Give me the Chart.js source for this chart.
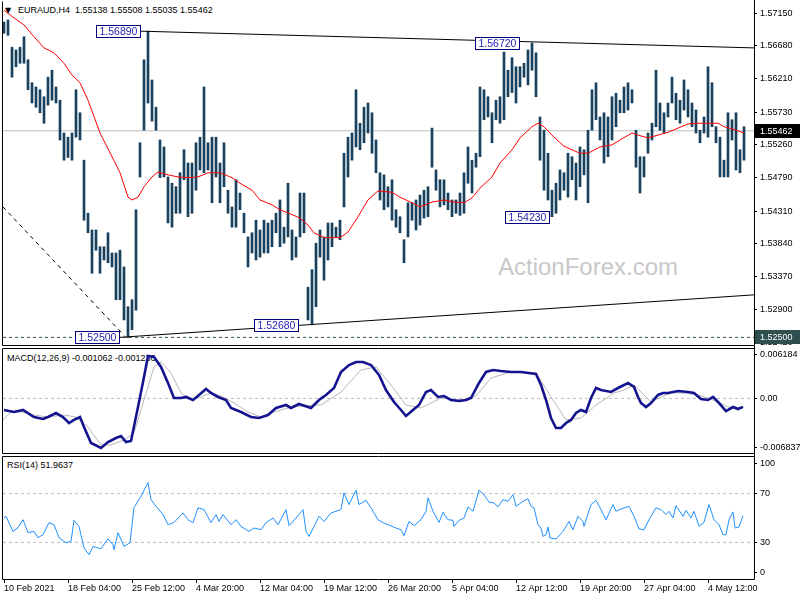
<!DOCTYPE html>
<html>
<head>
<meta charset="utf-8">
<script src="https://cdn.jsdelivr.net/npm/chart.js@4.4.0/dist/chart.umd.min.js"></script>
<style>
body { margin: 0; background: #fff; }
#wrap { position: relative; width: 800px; height: 600px; overflow: hidden; font-family: "Liberation Sans", Arial, sans-serif; }
canvas { position: absolute; left: 0; }
.lbl { position: absolute; font-size: 9px; line-height: 9px; white-space: pre; color: #000; }
#wm { position: absolute; left: 498px; top: 253px; font-size: 24px; color: #c8c8c8; }
</style>
</head>
<body>
<div id="wrap">
  <div id="wm">ActionForex.com</div>
  <div class="lbl" style="left:5px;top:6px;font-size:8px;font-family:'DejaVu Sans'">▼</div>
  <div class="lbl" style="left:18px;top:6px">EURAUD,H4  1.55138 1.55508 1.55035 1.55462</div>
  <div class="lbl" style="left:7px;top:354px">MACD(12,26,9) -0.001062 -0.001236</div>
  <div class="lbl" style="left:7px;top:461px">RSI(14) 51.9637</div>
  <canvas id="cMain" width="800" height="347" style="top:0"></canvas>
  <canvas id="cMacd" width="800" height="110" style="top:346px"></canvas>
  <canvas id="cRsi" width="800" height="146" style="top:454px"></canvas>
</div>
<script>
// ---- price bars (one bar = 8h here) ----
var highs = [
  1.5702,1.5705,1.5666,1.5662,1.5666,1.5681,1.5648,1.5615,1.5609,1.5605,
  1.5595,1.5623,1.5633,1.5609,1.5590,1.5543,1.5537,1.5543,1.5605,1.5572,
  1.5504,1.5428,1.5404,1.5404,1.5380,1.5380,1.5400,1.5371,1.5371,1.5375,
  1.5351,1.5294,1.5304,1.5433,1.5529,1.5648,1.5689,1.5619,1.5580,1.5533,
  1.5523,1.5480,1.5471,1.5466,1.5486,1.5519,1.5500,1.5500,1.5529,1.5537,
  1.5609,1.5529,1.5537,1.5537,1.5500,1.5529,1.5461,1.5437,1.5476,1.5457,
  1.5428,1.5394,1.5400,1.5418,1.5404,1.5418,1.5414,1.5418,1.5428,1.5447,
  1.5408,1.5471,1.5404,1.5394,1.5457,1.5457,1.5322,1.5347,1.5385,1.5404,
  1.5394,1.5414,1.5414,1.5408,1.5418,1.5514,1.5537,1.5543,1.5605,1.5557,
  1.5580,1.5586,1.5572,1.5533,1.5486,1.5483,1.5466,1.5476,1.5433,1.5423,
  1.5390,1.5443,1.5443,1.5447,1.5454,1.5461,1.5466,1.5550,1.5490,1.5476,
  1.5476,1.5457,1.5447,1.5447,1.5457,1.5486,1.5523,1.5504,1.5514,1.5609,
  1.5605,1.5595,1.5572,1.5590,1.5595,1.5659,1.5633,1.5651,1.5638,1.5638,
  1.5643,1.5662,1.5672,1.5658,1.5566,1.5547,1.5514,1.5461,1.5471,1.5490,
  1.5486,1.5514,1.5509,1.5500,1.5523,1.5519,1.5547,1.5605,1.5615,1.5566,
  1.5572,1.5566,1.5595,1.5600,1.5590,1.5609,1.5615,1.5605,1.5547,1.5509,
  1.5509,1.5543,1.5557,1.5633,1.5586,1.5572,1.5586,1.5623,1.5600,1.5590,
  1.5619,1.5605,1.5586,1.5576,1.5547,1.5566,1.5638,1.5615,1.5552,1.5537,
  1.5504,1.5572,1.5562,1.5572,1.5519,1.5552
];
var lows = [
  1.5686,1.5683,1.5623,1.5638,1.5643,1.5643,1.5605,1.5586,1.5580,1.5572,
  1.5557,1.5583,1.5590,1.5586,1.5533,1.5504,1.5508,1.5504,1.5537,1.5533,
  1.5418,1.5400,1.5342,1.5375,1.5342,1.5361,1.5357,1.5351,1.5304,1.5304,
  1.5275,1.5250,1.5261,1.5289,1.5480,1.5547,1.5586,1.5560,1.5547,1.5479,
  1.5480,1.5414,1.5408,1.5428,1.5428,1.5476,1.5423,1.5428,1.5461,1.5490,
  1.5486,1.5490,1.5443,1.5480,1.5443,1.5466,1.5428,1.5408,1.5408,1.5433,
  1.5400,1.5351,1.5371,1.5361,1.5365,1.5371,1.5371,1.5380,1.5400,1.5380,
  1.5385,1.5394,1.5361,1.5365,1.5394,1.5400,1.5275,1.5268,1.5294,1.5365,
  1.5332,1.5361,1.5380,1.5394,1.5390,1.5437,1.5480,1.5504,1.5523,1.5519,
  1.5529,1.5543,1.5514,1.5486,1.5447,1.5433,1.5437,1.5418,1.5408,1.5400,
  1.5357,1.5394,1.5418,1.5404,1.5411,1.5421,1.5423,1.5494,1.5461,1.5437,
  1.5440,1.5433,1.5423,1.5428,1.5425,1.5428,1.5471,1.5457,1.5494,1.5509,
  1.5562,1.5566,1.5529,1.5562,1.5557,1.5562,1.5595,1.5601,1.5586,1.5609,
  1.5623,1.5612,1.5633,1.5595,1.5504,1.5461,1.5447,1.5423,1.5428,1.5447,
  1.5461,1.5451,1.5476,1.5447,1.5466,1.5483,1.5443,1.5547,1.5562,1.5533,
  1.5500,1.5509,1.5533,1.5552,1.5572,1.5572,1.5576,1.5586,1.5494,1.5457,
  1.5480,1.5514,1.5533,1.5552,1.5547,1.5543,1.5566,1.5586,1.5562,1.5557,
  1.5576,1.5566,1.5552,1.5543,1.5529,1.5543,1.5537,1.5552,1.5529,1.5480,
  1.5480,1.5480,1.5533,1.5490,1.5486,1.5504
];

// moving average (red), sampled along the line
var maIdx = [0,2.5,5,7.5,10,12.5,15,17,19,21,24,27,29,31,32,33.5,35,37,38.5,41,43.5,46,48.5,51,54,57,59,62,64,67,69,72,74,76,77.5,80,84,86,88.5,91,93.5,97,99,102,104,107,110,112.5,115,117,119,122,124,127,129,132,133.5,135,137.5,140,142,144,146,149,152,154,157,158.5,161,163.5,166,168.5,171,173.5,176,178.5,180,182,183.5,185];
var maVal = [1.5719,1.5708,1.5698,1.5681,1.5665,1.5658,1.5643,1.5626,1.5615,1.5590,1.5543,1.5509,1.5486,1.5451,1.5447,1.5451,1.5466,1.5480,1.5487,1.5483,1.5480,1.5479,1.5480,1.5486,1.5486,1.5479,1.5471,1.5461,1.5447,1.5440,1.5433,1.5426,1.5421,1.5411,1.5400,1.5393,1.5393,1.5401,1.5423,1.5447,1.5460,1.5458,1.5451,1.5443,1.5437,1.5444,1.5447,1.5444,1.5443,1.5450,1.5464,1.5480,1.5500,1.5519,1.5536,1.5552,1.5557,1.5552,1.5537,1.5524,1.5519,1.5514,1.5514,1.5523,1.5526,1.5533,1.5543,1.5540,1.5536,1.5540,1.5544,1.5550,1.5556,1.5557,1.5557,1.5557,1.5552,1.5549,1.5546,1.5543];

var priceTicks = [1.5715,1.5668,1.5621,1.5573,1.5526,1.5479,1.5431,1.5384,1.5337,1.5290,1.5242];
var lastPrice = 1.55462;
var supportLevel = 1.5250;

// annotated swing points: bar index of the label's right edge, price
var noteIdx = [34.0, 128.75, 136.25, 28.75, 73.5];
var notePrice = [1.5689, 1.5672, 1.5423, 1.5250, 1.5268];

// trend lines: [start index, start price, end index, end price]
var upperTrend = [34.0, 1.5689, 187.5, 1.5665];
var lowerTrend = [28.75, 1.5250, 187.5, 1.5311];
var fallLine = [-0.25, 1.5437, 30.0, 1.5253];

// ---- MACD(12,26,9) ----
var macdIdx = [0,2.5,4.75,7.5,9.75,11,13,14.75,16.25,17.5,19,20,21.75,24.25,26,28,29.25,30.5,31.75,33.5,35,36,37.5,39.25,41,42.5,44.25,45.5,47.25,48.75,50.5,51.75,53.5,55.5,56.75,59.25,61.75,63.75,66,68,70.5,71.75,73.75,76.75,78.75,80.5,82.5,84.25,86.25,88,89.75,91.75,93.75,95.5,97.5,99.25,100.5,102.25,103.75,105.5,106.75,108.5,110,111.75,113.75,115.5,116.75,118.75,120.5,122.25,124.25,126.75,129.25,133,134.25,135.5,136.75,138,139.25,140.5,141.75,143,144.25,145.5,146.75,148,149.25,151.75,153.5,156,157.5,158.5,159.25,160.5,161.75,163.5,164.75,166,168.5,171,172.5,174.25,176,177.25,178.5,180.5,182.25,183.5,184.75];
var macdVal = [-0.00145,-0.00170,-0.00145,-0.00233,-0.00258,-0.00233,-0.00183,-0.00233,-0.00308,-0.00270,-0.00233,-0.00358,-0.00558,-0.00621,-0.00546,-0.00496,-0.00471,-0.00546,-0.00533,-0.00108,0.00268,0.00531,0.00518,0.00393,0.00193,0.00005,0.00005,0.00018,-0.00020,0.00043,0.00118,0.00068,0.00018,-0.00020,-0.00120,-0.00170,-0.00233,-0.00245,-0.00208,-0.00120,-0.00083,-0.00120,-0.00070,-0.00120,-0.00020,0.00043,0.00130,0.00331,0.00418,0.00456,0.00456,0.00418,0.00293,0.00105,-0.00045,-0.00145,-0.00220,-0.00145,-0.00083,0.00080,0.00105,0.00018,0.00030,-0.00020,-0.00033,-0.00020,0.00005,0.00193,0.00331,0.00356,0.00343,0.00331,0.00331,0.00305,0.00168,-0.00020,-0.00245,-0.00371,-0.00371,-0.00308,-0.00270,-0.00183,-0.00145,-0.00170,0.00005,0.00130,0.00105,0.00080,0.00130,0.00193,0.00143,0.00018,-0.00058,-0.00108,-0.00058,0.00043,0.00068,0.00068,0.00093,0.00080,0.00068,-0.00008,-0.00020,0.00018,-0.00045,-0.00158,-0.00108,-0.00133,-0.00106];
var sigIdx = [-0.25,1.75,4.25,7.5,11,15,18,21,24.25,26.75,30,32.5,35,37.5,39.25,41.75,44.25,46.75,49.25,51.75,54.25,57.5,61,64.25,67.5,71,74.25,79.25,84.25,89.25,93,96.75,100.5,104.25,109.25,114.25,118,121.75,126.75,133,136.75,140.5,144.25,148,152.5,155,157.5,160,161.75,163.75,166.75,170,173.5,176,178.5,181,184.75];
var sigVal = [-0.00270,-0.00170,-0.00170,-0.00208,-0.00233,-0.00208,-0.00233,-0.00358,-0.00583,-0.00583,-0.00521,-0.00433,-0.00020,0.00393,0.00456,0.00318,0.00068,-0.00020,0.00018,0.00068,0.00030,-0.00058,-0.00170,-0.00233,-0.00170,-0.00120,-0.00095,-0.00083,0.00080,0.00356,0.00393,0.00168,-0.00083,-0.00120,0.00005,-0.00020,0.00030,0.00255,0.00331,0.00318,0.00018,-0.00270,-0.00245,-0.00083,0.00068,0.00105,0.00168,0.00043,-0.00045,0.00005,0.00068,0.00068,0.00043,0.00005,-0.00045,-0.00108,-0.00124];
var macdTop = 0.006184, macdBottom = -0.006837;
var macdTicks = [0.006184, 0, -0.006837];
var macdTickText = ['0.006184', '0.00', '-0.006837'];

// ---- RSI(14) ----
var rsiIdx = [0,0.5,2.25,3.5,4.75,6,7.5,8.5,9.75,11.25,12.5,13.75,15.5,16.75,17.5,18.75,20,21.25,22.25,24.25,26,27.25,27.5,28.5,30,31.5,32.5,34.25,35.5,36,36.75,38,39.75,41,42.5,44.75,46,47.25,48.5,50,51.75,53,53.75,54.75,56.75,58,59.25,61.25,62.5,64.25,65.5,67.25,68.5,70.5,71.25,73,74.75,75.5,76.25,77.5,78.75,80,81.75,84.25,85,86.25,88,88.75,90.5,91.75,93.5,94.75,96,98,99.25,100,101.25,102.5,104.25,105.5,106,107.25,108.75,109.75,111,112.25,112.5,113.75,115,116,117.25,118.75,120,121.25,122.5,123.5,124.75,126,127.25,128,129.75,131,131.75,132.5,133.5,134.25,134.75,135.5,136,136.5,138,139.75,141.25,142.25,143.5,144.75,145,146.75,148,149.25,150.5,152.25,153,154.25,156.25,157.5,158.75,160,161.25,163,164.25,165.5,166.25,167.25,168,169.75,170.5,171.75,172.5,173.75,175,176.25,177.5,178.75,179.75,180.5,181.25,182.25,182.75,183.75,184.75];
var rsiVal = [50.0,51.4,39.0,42.1,48.6,38.0,39.0,33.9,36.3,46.2,44.5,33.9,29.7,30.8,48.1,43.1,25.6,19.9,26.7,24.8,33.0,28.1,24.0,38.0,26.7,29.7,58.5,67.8,76.0,79.0,65.1,59.6,52.8,44.5,46.4,54.1,48.6,46.2,58.3,56.9,46.2,52.8,47.2,52.8,44.5,48.6,43.1,39.0,41.8,40.4,46.2,50.0,44.5,56.9,43.7,50.0,56.9,39.0,34.9,43.1,51.4,47.2,54.1,56.9,70.6,61.0,72.7,61.0,64.5,58.3,48.6,46.2,44.5,41.8,40.4,35.5,47.2,43.7,48.6,55.5,66.5,55.5,46.4,54.6,48.6,48.1,43.1,48.1,50.0,59.1,55.5,72.7,69.2,62.9,62.4,59.1,65.1,63.7,69.2,59.6,63.7,65.7,59.6,58.3,44.5,41.8,34.9,36.3,42.6,33.6,32.8,39.0,47.2,40.4,51.4,47.2,43.1,61.0,64.5,56.9,48.6,61.0,55.5,57.4,59.6,51.4,41.0,40.4,48.6,58.3,56.9,52.8,55.5,50.0,60.1,51.4,56.3,50.0,55.5,43.1,46.4,61.0,48.6,44.5,36.3,36.3,48.6,55.0,41.8,42.6,52.0];
var rsiLevels = [70, 30];
var rsiTicks = [100, 70, 30, 0];

// ---- time axis ----
var dateIdx = [0,16,32,48,64,80,96,112,128,144,160,176];
var dateLabels = ['10 Feb 2021','18 Feb 04:00','25 Feb 12:00','4 Mar 20:00','12 Mar 04:00','19 Mar 12:00','26 Mar 20:00','5 Apr 04:00','12 Apr 12:00','19 Apr 20:00','27 Apr 04:00','4 May 12:00'];

var X_MIN = -0.25, X_MAX = 187.5;
var FONT = { family: '"Liberation Sans", Arial, sans-serif', size: 9 };

function pts(xs, ys) { return xs.map(function (x, i) { return { x: x, y: ys[i] }; }); }
function seg(s) { return [{ x: s[0], y: s[1] }, { x: s[2], y: s[3] }]; }
function flat(v) { return [{ x: X_MIN, y: v }, { x: X_MAX, y: v }]; }
function line(data, color, width, order, dash) {
  return { type: 'line', data: data, borderColor: color, borderWidth: width, pointRadius: 0,
           tension: 0, order: order, borderDash: dash || [], fill: false };
}
// stop the axes from pushing the plot area in for their edge labels
function noEdgePad(s) { s.paddingTop = 0; s.paddingBottom = 0; s.paddingLeft = 0; s.paddingRight = 0; }

// frame around each panel
function frame(sides) {
  return {
    id: 'frame',
    afterDraw: function (chart) {
      var c = chart.ctx, a = chart.chartArea;
      var l = a.left - 0.5, r = a.right + 0.5, t = a.top - 0.5, b = a.bottom + 0.5;
      c.save();
      c.strokeStyle = '#000';
      c.lineWidth = 1;
      c.beginPath();
      if (sides.indexOf('t') >= 0) { c.moveTo(l, t); c.lineTo(r, t); }
      if (sides.indexOf('b') >= 0) { c.moveTo(l, b); c.lineTo(r, b); }
      c.moveTo(l, t); c.lineTo(l, b);
      c.moveTo(r, 0); c.lineTo(r, b);
      c.stroke();
      c.restore();
    }
  };
}

function yAxis(min, max, tickVals, labelFn, inset) {
  return {
    position: 'right', min: min, max: max,
    afterFit: function (s) { s.width = 46; noEdgePad(s); },
    afterBuildTicks: function (s) {
      var pad = (max - min) * inset;
      s.ticks = tickVals.map(function (v) {
        var p = v;
        if (v >= max) p = max - pad;
        if (v <= min) p = min + pad;
        return { value: p };
      });
    },
    ticks: { autoSkip: false, font: FONT, color: '#000', padding: 3, callback: labelFn },
    grid: { drawOnChartArea: false, tickLength: 3, tickColor: '#000' },
    border: { display: false }
  };
}

function xHidden() {
  return { type: 'linear', min: X_MIN, max: X_MAX, display: false, offset: false, grid: { offset: false } };
}

var base = {
  responsive: false, animation: false, events: [],
  plugins: { legend: { display: false }, tooltip: { enabled: false } }
};

// ---------------- main price panel ----------------
var bars = highs.map(function (h, i) { return { x: i, y: [lows[i], h] }; });

var notesPlugin = {
  id: 'notes',
  afterDatasetsDraw: function (chart) {
    var c = chart.ctx, xs = chart.scales.x, ys = chart.scales.y;
    c.save();
    c.font = '10.5px "Liberation Sans", Arial, sans-serif';
    c.textBaseline = 'middle';
    noteIdx.forEach(function (ix, i) {
      var txt = notePrice[i].toFixed(5);
      var px = xs.getPixelForValue(ix), py = ys.getPixelForValue(notePrice[i]);
      var w = Math.round(c.measureText(txt).width + 6), h = 12;
      var bx = Math.round(px - w) + 0.5, by = Math.round(py - h / 2) + 0.5;
      c.fillStyle = '#fff';
      c.fillRect(bx, by, w, h);
      c.strokeStyle = '#000080';
      c.lineWidth = 1;
      c.strokeRect(bx, by, w, h);
      c.fillStyle = '#1f1fb4';
      c.fillText(txt, bx + 3, by + h / 2 + 0.5);
    });
    c.restore();
  }
};

var markerPrices = [lastPrice, supportLevel];
var markerColors = ['#000000', '#2f4f4f'];
var markerPlugin = {
  id: 'markers',
  afterDraw: function (chart) {
    var c = chart.ctx, ys = chart.scales.y, a = chart.chartArea;
    c.save();
    c.font = '9px "Liberation Sans", Arial, sans-serif';
    c.textBaseline = 'middle';
    markerPrices.forEach(function (p, i) {
      var y = Math.round(ys.getPixelForValue(p));
      c.fillStyle = markerColors[i];
      c.fillRect(a.right + 1, y - 7, 800 - a.right, 14);
      c.fillStyle = '#fff';
      c.fillText(p.toFixed(5), a.right + 6, y + 0.5);
    });
    c.restore();
  }
};

new Chart(document.getElementById('cMain'), {
  type: 'bar',
  data: {
    datasets: [
      line(flat(lastPrice), '#c0c0c0', 1, 9),
      line(flat(supportLevel), '#2f4f4f', 1, 8, [3, 3]),
      { type: 'bar', data: bars, backgroundColor: '#17405f', barThickness: 2, borderWidth: 0, order: 5 },
      line(pts(maIdx, maVal), '#ff0000', 1, 3),
      line(seg(upperTrend), '#000', 1, 2),
      line(seg(lowerTrend), '#000', 1, 2),
      line(seg(fallLine), '#000', 1, 2, [4, 4])
    ]
  },
  options: Object.assign({}, base, {
    layout: { padding: { left: 3, top: 2, bottom: 2, right: 0 } },
    scales: {
      x: xHidden(),
      y: yAxis(1.52391, 1.57308, priceTicks, function (v, i) { return priceTicks[i].toFixed(5); }, 0)
    }
  }),
  plugins: [frame('b'), notesPlugin, markerPlugin]
});

// ---------------- MACD panel ----------------
new Chart(document.getElementById('cMacd'), {
  type: 'line',
  data: {
    datasets: [
      line(flat(0), '#bdbdbd', 1, 3, [3, 3]),
      line(pts(sigIdx, sigVal), '#b8b8b8', 1, 2),
      line(pts(macdIdx, macdVal), '#141490', 2.6, 1)
    ]
  },
  options: Object.assign({}, base, {
    layout: { padding: { left: 3, top: 3, bottom: 3, right: 0 } },
    scales: {
      x: xHidden(),
      y: yAxis(macdBottom, macdTop, macdTicks, function (v, i) { return macdTickText[i]; }, 0.055)
    }
  }),
  plugins: [frame('tb')]
});

// ---------------- RSI panel ----------------
new Chart(document.getElementById('cRsi'), {
  type: 'line',
  data: {
    datasets: [
      line(flat(rsiLevels[0]), '#bdbdbd', 1, 3, [3, 3]),
      line(flat(rsiLevels[1]), '#bdbdbd', 1, 3, [3, 3]),
      line(pts(rsiIdx, rsiVal), '#1e90ff', 1, 1)
    ]
  },
  options: Object.assign({}, base, {
    layout: { padding: { left: 3, top: 3, bottom: 0, right: 0 } },
    scales: {
      x: {
        type: 'linear', min: X_MIN, max: X_MAX, offset: false,
        afterBuildTicks: function (s) { s.ticks = dateIdx.map(function (v) { return { value: v }; }); },
        afterFit: function (s) { s.height = 21; noEdgePad(s); },
        ticks: { autoSkip: false, maxRotation: 0, minRotation: 0, align: 'start', padding: 0,
                 font: FONT, color: '#000', callback: function (v, i) { return dateLabels[i]; } },
        grid: { drawOnChartArea: false, tickLength: 4, tickColor: '#000', offset: false },
        border: { display: false }
      },
      y: yAxis(0, 100, rsiTicks, function (v, i) { return String(rsiTicks[i]); }, 0.05)
    }
  }),
  plugins: [frame('tb')]
});
</script>
</body>
</html>
